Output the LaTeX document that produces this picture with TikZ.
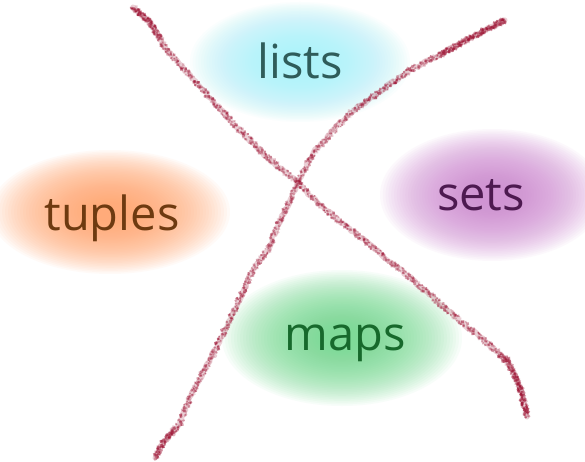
\documentclass[tikz,border=0pt]{standalone}
\usepackage{fontspec}
\setmainfont{Open Sans}
\usetikzlibrary{decorations.pathmorphing,decorations.markings}

\definecolor{crayonred}{RGB}{158,20,52}
\definecolor{glowcyan}{HTML}{A6F3FA}
\definecolor{glowcoral}{HTML}{FFA36A}
\definecolor{glowplum}{HTML}{D088D3}
\definecolor{glowmint}{HTML}{6FDA8C}
\definecolor{inkteal}{HTML}{2F5C5A}
\definecolor{inkbrown}{HTML}{6E3A10}
\definecolor{inkplum}{HTML}{4D1A50}
\definecolor{inkgreen}{HTML}{17692C}

% a soft halo built from many faint nested ellipses
\newcommand{\softhalo}[4]{%
  \foreach \s in {1.000,0.975,...,0.15} {
    \fill[#1, opacity=0.05] #2 ellipse ({#3*\s} and {#4*\s});
  }%
}

\tikzset{
  word/.style={anchor=base, inner sep=0pt, text=#1,
    font=\fontsize{47}{52}\selectfont},
  crayonbase/.style={draw=crayonred, line width=5pt, opacity=0.2,
    line cap=round, line join=round, decorate,
    decoration={random steps, segment length=3pt, amplitude=1.3pt}},
  % waxy grain: scattered flecks of pigment along the stroke
  crayonflecks/.style={decorate, decoration={markings,
    mark=between positions 0 and 1 step #1 with {
      \pgfmathsetmacro\fleckop{0.14+0.38*rnd}
      \fill[crayonred, opacity=\fleckop]
        ({1.5*rand*1pt},{2.8*rand*1pt}) circle [radius={(0.9+1.1*rnd)*1pt}];
    }}},
  crayonflecks/.default=0.7pt
}

\begin{document}
\begin{tikzpicture}[x=1pt, y=-1pt]
  \pgfmathsetseed{11}
  \fill[white] (0,0) rectangle (585,462);
  \useasboundingbox (0,0) rectangle (585,462);

  % coloured halos behind the words
  \softhalo{glowcyan}{(300,62)}{110}{60}
  \softhalo{glowcoral}{(110,212)}{120}{62}
  \softhalo{glowplum}{(492,195)}{112}{66}
  \softhalo{glowmint}{(342,338)}{120}{68}

  % the two crossing crayon strokes
  \def\strokeA{(133,7) -- (150,23) -- (167,50) -- (200,87) -- (233,123)
      -- (267,157) -- (298,183) -- (320,205) -- (347,227) -- (380,253)
      -- (413,280) -- (447,310) -- (480,337) -- (507,360) -- (520,387)
      -- (527,417)}
  \def\strokeB{(505,20) -- (470,38) -- (440,55) -- (410,70) -- (350,113)
      -- (313,153) -- (298,182) -- (290,200) -- (277,227) -- (270,247)
      -- (253,270) -- (233,313) -- (220,340) -- (210,360) -- (193,390)
      -- (180,423) -- (163,443) -- (155,458)}
  \draw[crayonbase] \strokeA;
  \draw[crayonbase] \strokeB;
  \path[crayonflecks] \strokeA;
  \path[crayonflecks] \strokeB;

  % heavier pressure near the stroke ends
  \path[crayonflecks=0.4pt] (133,7) -- (150,23) -- (160,38);
  \path[crayonflecks=0.4pt] (500,355) -- (510,366) -- (520,387) -- (527,417);
  \path[crayonflecks=0.4pt] (505,20) -- (470,38) -- (440,55);
  \path[crayonflecks=0.5pt] (178,425) -- (163,443) -- (155,458);

  % words
  \node[word=inkteal]  (lists)  at (300,79)  {lists};
  \node[word=inkbrown] (tuples) at (112,230) {tuples};
  \node[word=inkplum]  (sets)   at (481,210) {sets};
  \node[word=inkgreen] (maps)   at (345,350) {maps};
\end{tikzpicture}
\end{document}
